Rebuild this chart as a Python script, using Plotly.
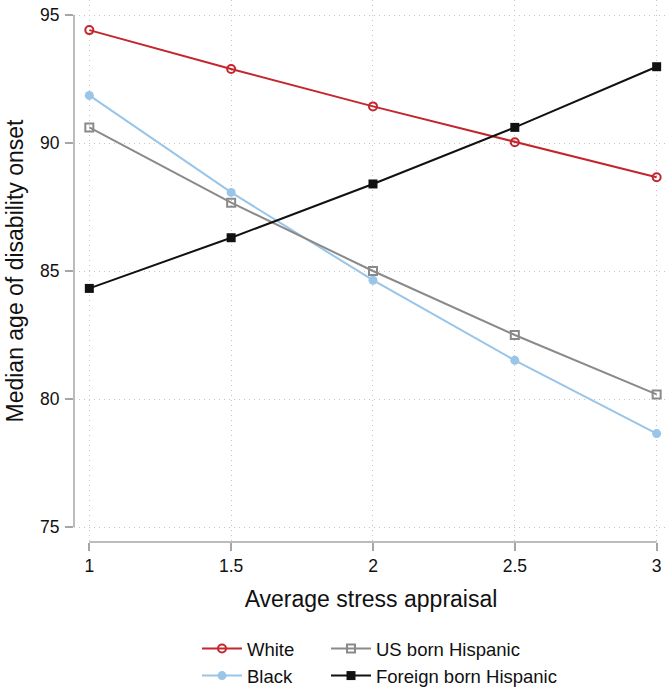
import plotly.graph_objects as go

stress = [1, 1.5, 2, 2.5, 3]
white = [94.41, 92.89, 91.43, 90.03, 88.66]
black = [91.86, 88.07, 84.64, 81.51, 78.65]
us_born = [90.61, 87.67, 85.00, 82.50, 80.18]
foreign_born = [84.32, 86.30, 88.40, 90.61, 92.98]

x_ticks = [1, 1.5, 2, 2.5, 3]
x_ticklabels = ["1", "1.5", "2", "2.5", "3"]
y_ticks = [75, 80, 85, 90, 95]

RED = "#c4262e"
BLUE = "#99c5e8"
GRAY = "#8a8a8a"
BLK = "#111111"
AXC = "#a6a6a6"
GRID = "#c4c4c4"
FONT = "Liberation Sans, Arial, sans-serif"

W, H = 670, 689
L, R, T, B = 74, 2, 0, 147
PW, PH = W - L - R, H - T - B

fig = go.Figure()
fig.add_trace(go.Scatter(x=stress, y=white, name="White", mode="lines+markers",
                         line=dict(color=RED, width=2), legendgroup="a",
                         marker=dict(symbol="circle-open", size=8, color=RED, line=dict(width=2)),
                         legend="legend"))
fig.add_trace(go.Scatter(x=stress, y=black, name="Black", mode="lines+markers",
                         line=dict(color=BLUE, width=2), legendgroup="b",
                         marker=dict(symbol="circle", size=9, color=BLUE),
                         legend="legend"))
fig.add_trace(go.Scatter(x=stress, y=us_born, name="US born Hispanic", mode="lines+markers",
                         line=dict(color=GRAY, width=2), legendgroup="c",
                         marker=dict(symbol="square-open", size=8, color=GRAY, line=dict(width=2)),
                         legend="legend2"))
fig.add_trace(go.Scatter(x=stress, y=foreign_born, name="Foreign born Hispanic", mode="lines+markers",
                         line=dict(color=BLK, width=2), legendgroup="d",
                         marker=dict(symbol="square", size=9, color=BLK),
                         legend="legend2"))

# axis lines spanning only the data range
fig.add_shape(type="line", xref="paper", yref="y", x0=0, x1=0, y0=min(y_ticks), y1=max(y_ticks),
              line=dict(color=AXC, width=1.5), layer="above")
fig.add_shape(type="line", xref="x", yref="paper", x0=min(x_ticks), x1=max(x_ticks), y0=0, y1=0,
              line=dict(color=AXC, width=1.5), layer="above")

leg_top = (PH + T - 630) / PH  # paper coords (negative: below plot)

fig.update_layout(
    width=W, height=H,
    margin=dict(l=L, r=R, t=T, b=B, autoexpand=False),
    plot_bgcolor="white", paper_bgcolor="white",
    font=dict(family=FONT, color="#111111"),
    xaxis=dict(range=[0.946, 3.040], tickvals=x_ticks, ticktext=x_ticklabels,
               showgrid=True, gridcolor=GRID, griddash="1px,4px", gridwidth=1,
               zeroline=False, showline=False,
               ticks="outside", ticklen=8, tickcolor=AXC, tickwidth=1.5,
               tickfont=dict(size=17.5, family=FONT, color="#111111"),
               title=dict(text="Average stress appraisal", font=dict(size=23, family=FONT), standoff=15)),
    yaxis=dict(range=[74.414, 95.586], tickvals=y_ticks,
               showgrid=True, gridcolor=GRID, griddash="1px,4px", gridwidth=1,
               zeroline=False, showline=False,
               ticks="outside", ticklen=8, tickcolor=AXC, tickwidth=1.5, ticklabelstandoff=2,
               tickfont=dict(size=17.5, family=FONT, color="#111111"),
               title=dict(text="Median age of disability onset", font=dict(size=23, family=FONT), standoff=9)),
    legend=dict(x=(197 - L) / PW, y=leg_top, xanchor="left", yanchor="top", orientation="v",
                font=dict(size=18.5, family=FONT), tracegroupgap=0, itemwidth=40,
                bgcolor="rgba(0,0,0,0)"),
    legend2=dict(x=(326 - L) / PW, y=leg_top, xanchor="left", yanchor="top", orientation="v",
                 font=dict(size=18.5, family=FONT), tracegroupgap=0, itemwidth=40,
                 bgcolor="rgba(0,0,0,0)"),
    showlegend=True,
)

fig.write_html("out.html", config={"displayModeBar": False},
               post_script="document.body.style.margin='0';document.body.style.padding='0';")
